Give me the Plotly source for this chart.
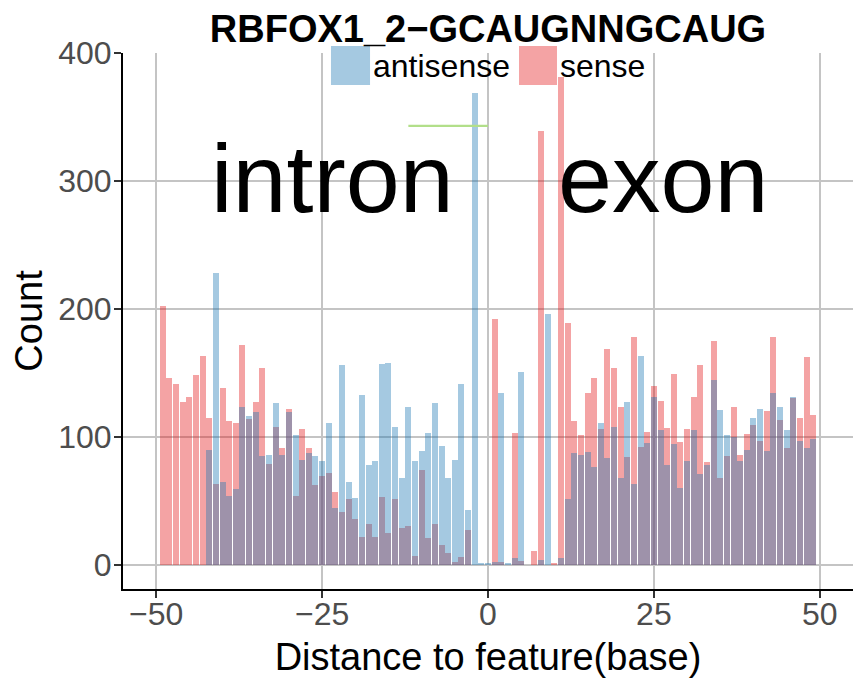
import plotly.graph_objects as go

# Read counts per position relative to the feature boundary
positions = list(range(-49, 50))

sense = [
    202, 146, 141, 127, 131, 148, 163, 115, 63, 138,      # -49 .. -40
    112, 111, 172, 114, 127, 154, 79, 108, 91, 122,       # -39 .. -30
    54, 106, 91, 62, 69, 72, 57, 41, 51, 36,              # -29 .. -20
    22, 32, 22, 53, 25, 51, 29, 30, 7, 74,                # -19 .. -10
    21, 32, 15, 9, 2, 6, 27, None, None, None,            # -9 .. 0
    192, 2, None, 103, 3, None, 11, 339, None, 1,         # 1 .. 10
    381, 189, 112, 101, 134, 146, 106, 169, 154, 123,     # 11 .. 20
    84, 178, 92, 104, 140, 128, 107, 149, 96, 106,        # 21 .. 30
    131, 156, 80, 175, 68, 85, 123, 86, 102, 109,         # 31 .. 40
    97, 120, 178, 113, 91, 130, 115, 162, 117,            # 41 .. 49
]

antisense = [
    None, None, None, None, None, None, None, 90, 228, 65,  # -49 .. -40
    54, 59, 123, 116, 119, 85, 86, 126, 86, 119,          # -39 .. -30
    101, 82, 87, 85, 81, 111, 44, 156, 65, 52,            # -29 .. -20
    133, 78, 81, 157, 158, 108, 68, 123, 81, 89,          # -19 .. -10
    103, 126, 93, 68, 82, 141, 43, 369, 1, 1,             # -9 .. 0
    2, 134, 1, 5, 151, None, None, 4, 196, None,          # 1 .. 10
    5, 51, 87, 86, 88, 76, 111, 83, 108, 68,              # 11 .. 20
    127, 63, 163, 95, 131, 105, 78, 94, 60, 81,           # 21 .. 30
    105, 71, 78, 144, 121, 101, 100, 81, 90, 115,         # 31 .. 40
    122, 89, 134, 123, 105, 131, 97, 91, 98,              # 41 .. 49
]

# Reference segment drawn above the intron side
segment_x = [-12, 0]
segment_y = [343, 343]

x_ticks = [-50, -25, 0, 25, 50]
y_ticks = [0, 100, 200, 300, 400]

SENSE_COLOR = "rgba(227,26,28,0.4)"
ANTISENSE_COLOR = "rgba(31,120,180,0.4)"
FONT = "Liberation Sans, Arial, sans-serif"

fig = go.Figure()
fig.add_trace(go.Bar(x=positions, y=sense, name="sense", width=0.9,
                     marker=dict(color=SENSE_COLOR, line=dict(width=0)),
                     showlegend=False))
fig.add_trace(go.Bar(x=positions, y=antisense, name="antisense", width=0.9,
                     marker=dict(color=ANTISENSE_COLOR, line=dict(width=0)),
                     showlegend=False))
fig.add_trace(go.Scatter(x=segment_x, y=segment_y, mode="lines",
                         line=dict(color="#b2df8a", width=2.2),
                         showlegend=False, hoverinfo="skip"))

ymax = max(v for v in sense + antisense if v is not None)

fig.update_layout(
    width=866, height=678,
    margin=dict(l=123, r=13, t=53, b=89),
    paper_bgcolor="white", plot_bgcolor="white",
    barmode="overlay", bargap=0,
    font=dict(family=FONT, color="black"),
    title=dict(text="<b>RBFOX1_2\u2212GCAUGNNGCAUG</b>", x=0.5, xref="paper",
               xanchor="center", y=1 - 29 / 678, yref="container",
               yanchor="middle", font=dict(size=38, family=FONT, color="black"),
               automargin=False),
    xaxis=dict(range=[-55, 55], tickvals=x_ticks, showgrid=True,
               gridcolor="#c4c4c4", gridwidth=2, zeroline=False,
               showline=True, linecolor="black", linewidth=2,
               ticks="outside", ticklen=7, tickwidth=1.5, tickcolor="#333333",
               tickfont=dict(size=32, color="#4d4d4d", family=FONT),
               ticklabelstandoff=-11, automargin=False,
               title=dict(text="Distance to feature(base)", standoff=14,
                          font=dict(size=38, color="black", family=FONT))),
    yaxis=dict(range=[-0.05 * ymax, 1.05 * ymax], tickvals=y_ticks, showgrid=True,
               gridcolor="#c4c4c4", gridwidth=2, zeroline=False,
               showline=True, linecolor="black", linewidth=2,
               ticks="outside", ticklen=7, tickwidth=1.5, tickcolor="#333333",
               tickfont=dict(size=32, color="#4d4d4d", family=FONT),
               ticklabelstandoff=-4, automargin=False,
               title=dict(text="Count", standoff=4,
                          font=dict(size=38, color="black", family=FONT))),
)

# Region labels
for label, xpos in [("intron", -23.5), ("exon", 26.3)]:
    fig.add_annotation(x=xpos, y=302, xref="x", yref="y", text=label,
                       showarrow=False, xanchor="center", yanchor="middle",
                       font=dict(size=97, family=FONT, color="black"))

# Legend drawn at the top of the panel
fig.add_shape(type="rect", xref="paper", yref="paper", x0=0.284, x1=0.72,
              y0=0.959, y1=1.017, fillcolor="white", line=dict(width=0),
              layer="between")
legend_items = [("antisense", ANTISENSE_COLOR, 0.2849, 0.3384),
                ("sense", SENSE_COLOR, 0.5425, 0.5945)]
for name, color, kx0, kx1 in legend_items:
    fig.add_shape(type="rect", xref="paper", yref="paper", x0=kx0, x1=kx1,
                  y0=0.9403, y1=1.0131, fillcolor=color, line=dict(width=0),
                  layer="above")
    fig.add_annotation(x=kx1 + 0.001, y=0.9757, xref="paper", yref="paper",
                       text=name, showarrow=False, xanchor="left",
                       yanchor="middle",
                       font=dict(size=32, family=FONT, color="black"))

fig.write_html("out.html")
